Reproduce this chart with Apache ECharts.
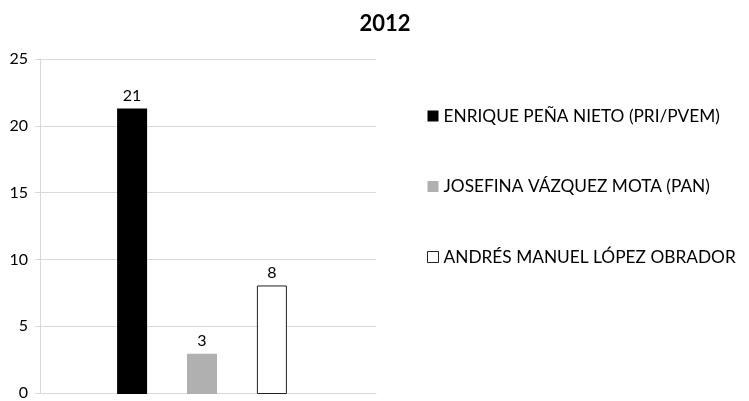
<!DOCTYPE html>
<html>
<head>
<meta charset="utf-8">
<script src="https://cdn.jsdelivr.net/npm/echarts@6/dist/echarts.min.js"></script>
<style>
html, body { margin: 0; padding: 0; background: #fff; }
#main { width: 749px; height: 401px; }
</style>
</head>
<body>
<div id="main"></div>
<script>
"use strict";
var chartTitle = '2012';
var categories = [''];
var candidates = ['ENRIQUE PEÑA NIETO (PRI/PVEM)', 'JOSEFINA VÁZQUEZ MOTA (PAN)', 'ANDRÉS MANUEL LÓPEZ OBRADOR'];
var votes = [21.3, 3.0, 8.1];
var barColors = ['#000000', '#b0b0b0', '#ffffff'];

var myChart = echarts.init(document.getElementById('main'));
var font = 'Lato, "Noto Sans", sans-serif';

var series = candidates.map(function (name, i) {
    return {
        name: name,
        type: 'bar',
        xAxisIndex: 1,
        yAxisIndex: 1,
        data: [votes[i]],
        barWidth: 30,
        barGap: '133%',
        itemStyle: {
            color: barColors[i],
            borderColor: i === 2 ? '#222' : barColors[i],
            borderWidth: i === 2 ? 1 : 0
        },
        label: {
            show: true,
            position: 'top',
            distance: 5,
            color: '#000',
            fontSize: 16,
            fontFamily: font,
            formatter: function (p) { return Math.round(p.value); }
        }
    };
});

myChart.setOption({
    animation: false,
    title: {
        text: chartTitle,
        left: 380,
        top: 8,
        textAlign: 'center',
        textStyle: { fontSize: 22, fontWeight: 'bold', color: '#000', fontFamily: font }
    },
    legend: {
        orient: 'vertical',
        left: 427,
        top: 107,
        padding: 0,
        itemWidth: 11,
        itemHeight: 11,
        itemGap: 52.5,
        icon: 'rect',
        selectedMode: false,
        textStyle: { fontSize: 17.3, color: '#000', fontFamily: font, lineHeight: 18 },
        data: candidates.map(function (n, i) {
            return {
                name: n,
                itemStyle: { color: barColors[i], borderColor: i === 2 ? '#222' : barColors[i], borderWidth: i === 2 ? 1 : 0 }
            };
        })
    },
    grid: [
        { left: 40, right: 373, top: 59, bottom: 7 },
        { left: 34, right: 379, top: 59, bottom: 7 }
    ],
    xAxis: [
        {
            gridIndex: 0, type: 'category', data: categories,
            axisLine: { lineStyle: { color: '#d9d9d9' } },
            axisTick: { show: false }, axisLabel: { show: false }
        },
        {
            gridIndex: 1, type: 'category', data: categories, show: false
        }
    ],
    yAxis: [
        {
            gridIndex: 0, type: 'value', min: 0, max: 25, interval: 5,
            axisLine: { show: true, lineStyle: { color: '#d9d9d9' } },
            axisTick: { show: true, length: 5, lineStyle: { color: '#d9d9d9' } },
            splitLine: { lineStyle: { color: '#d9d9d9' } },
            axisLabel: { color: '#000', fontSize: 16, fontFamily: font, margin: 12 }
        },
        {
            gridIndex: 1, type: 'value', min: 0, max: 25, interval: 5, show: false,
            splitLine: { show: false }
        }
    ],
    series: series
});
</script>
</body>
</html>
